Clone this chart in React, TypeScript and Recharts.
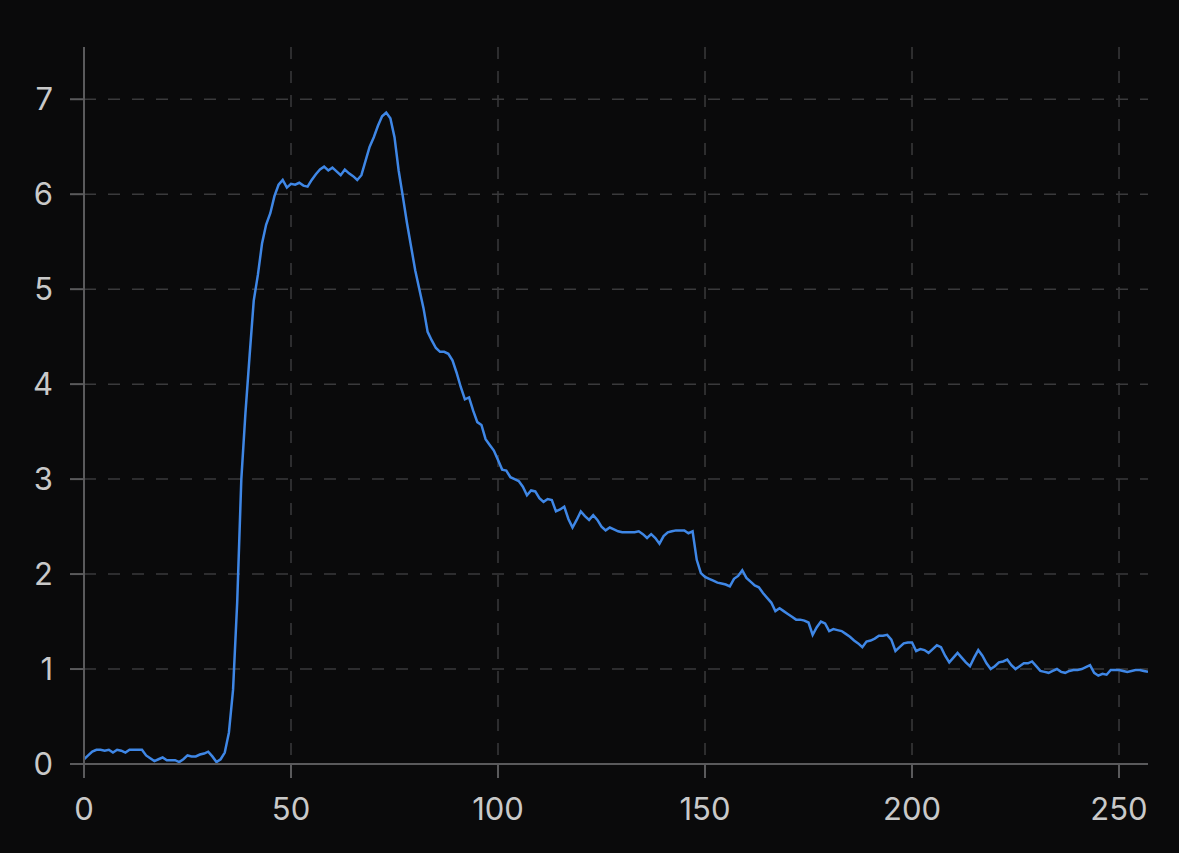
import React from "react";
import { LineChart, Line, XAxis, YAxis, CartesianGrid } from "recharts";

const values: number[] = [
  0.05, 0.09, 0.13, 0.15, 0.15, 0.14, 0.15, 0.12, 0.15, 0.14,
  0.12, 0.15, 0.15, 0.15, 0.15, 0.09, 0.06, 0.03, 0.05, 0.07,
  0.04, 0.04, 0.04, 0.02, 0.05, 0.09, 0.08, 0.08, 0.1, 0.11,
  0.13, 0.08, 0.02, 0.05, 0.12, 0.33, 0.78, 1.7, 3.0, 3.7,
  4.3, 4.88, 5.15, 5.48, 5.68, 5.8, 5.98, 6.1, 6.15, 6.07,
  6.11, 6.1, 6.12, 6.09, 6.08, 6.15, 6.21, 6.26, 6.29, 6.25,
  6.28, 6.24, 6.2, 6.26, 6.22, 6.19, 6.15, 6.2, 6.35, 6.5,
  6.6, 6.72, 6.82, 6.86, 6.8, 6.6, 6.25, 5.98, 5.7, 5.45,
  5.2, 5.0, 4.8, 4.55, 4.46, 4.38, 4.34, 4.34, 4.32, 4.25,
  4.12, 3.97, 3.84, 3.86, 3.72, 3.6, 3.57, 3.42, 3.36, 3.3,
  3.2, 3.1, 3.09, 3.02, 3.0, 2.98, 2.92, 2.83, 2.88, 2.87,
  2.8, 2.76, 2.79, 2.78, 2.66, 2.68, 2.71, 2.58, 2.49, 2.57,
  2.66, 2.61, 2.57, 2.62, 2.57, 2.5, 2.46, 2.49, 2.47, 2.45,
  2.44, 2.44, 2.44, 2.44, 2.45, 2.42, 2.38, 2.42, 2.38, 2.32,
  2.4, 2.44, 2.45, 2.46, 2.46, 2.46, 2.43, 2.45, 2.15, 2.01,
  1.97, 1.95, 1.93, 1.91, 1.9, 1.89, 1.87, 1.95, 1.98, 2.04,
  1.96, 1.92, 1.88, 1.86, 1.8, 1.75, 1.7, 1.61, 1.64, 1.61,
  1.58, 1.55, 1.52, 1.52, 1.51, 1.49, 1.36, 1.44, 1.5, 1.48,
  1.4, 1.42, 1.41, 1.4, 1.37, 1.34, 1.3, 1.27, 1.23, 1.29,
  1.3, 1.32, 1.35, 1.35, 1.36, 1.31, 1.19, 1.23, 1.27, 1.28,
  1.28, 1.19, 1.21, 1.2, 1.17, 1.21, 1.25, 1.23, 1.14, 1.07,
  1.12, 1.17, 1.12, 1.07, 1.03, 1.12, 1.2, 1.14, 1.06, 1.0,
  1.03, 1.07, 1.08, 1.1, 1.04, 1.0, 1.03, 1.06, 1.06, 1.08,
  1.03, 0.98, 0.97, 0.96, 0.98, 1.0, 0.97, 0.96, 0.98, 0.99,
  0.99, 1.0, 1.02, 1.04, 0.96, 0.93, 0.95, 0.94, 0.99, 0.99,
  0.99, 0.98, 0.97, 0.98, 0.99, 0.99, 0.98, 0.97,
];

const xTicks: number[] = [0, 50, 100, 150, 200, 250];
const yTicks: number[] = [0, 1, 2, 3, 4, 5, 6, 7];

const data = values.map((v, i) => ({ x: i, y: v }));

const tickStyle = { fill: "#c9c9c9", fontSize: 31, fontFamily: "Inter, 'Noto Sans', sans-serif" };

export default function App() {
  return (
    <div style={{ position: "fixed", left: 0, top: 0, width: 1179, height: 853, background: "#0a0a0b" }}>
      <LineChart
        width={1179}
        height={853}
        data={data}
        margin={{ top: 47, right: 31, left: 0, bottom: 0 }}
      >
        <CartesianGrid
          stroke="#3a3a3c"
          strokeDasharray="12 12"
          strokeWidth={1.5}
          horizontalValues={[1, 2, 3, 4, 5, 6, 7]}
          verticalValues={[50, 100, 150, 200, 250]}
        />
        <XAxis
          dataKey="x"
          type="number"
          domain={[0, 257]}
          ticks={xTicks}
          height={89}
          tickSize={14}
          tickMargin={20}
          stroke="#5a5a5c"
          strokeWidth={2}
          tick={tickStyle}
          allowDataOverflow
        />
        <YAxis
          type="number"
          domain={[0, 7.55]}
          ticks={yTicks}
          width={84}
          tickSize={14}
          tickMargin={17}
          stroke="#5a5a5c"
          strokeWidth={2}
          tick={tickStyle}
          allowDataOverflow
        />
        <Line
          type="linear"
          dataKey="y"
          stroke="#3f87e6"
          strokeWidth={2.5}
          dot={false}
          isAnimationActive={false}
        />
      </LineChart>
    </div>
  );
}
